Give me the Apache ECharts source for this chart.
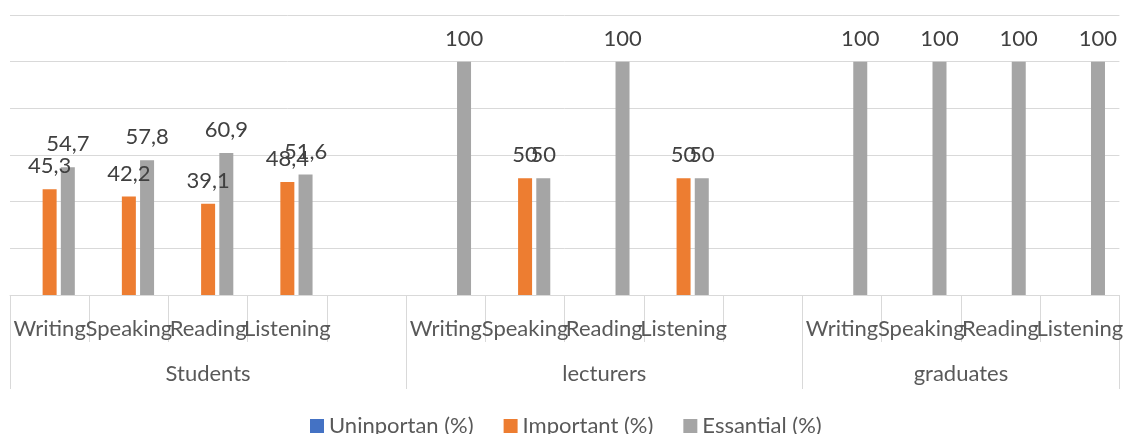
<!DOCTYPE html>
<html>
<head>
<meta charset="utf-8">
<script src="https://cdn.jsdelivr.net/npm/echarts@6/dist/echarts.min.js"></script>
<style>
html,body{margin:0;padding:0;background:#fff;}
#chart{width:1126px;height:434px;}
</style>
</head>
<body>
<div id="chart"></div>
<script>
// ---- data ----
var skills = ['Writing','Speaking','Reading','Listening','', 'Writing','Speaking','Reading','Listening','', 'Writing','Speaking','Reading','Listening'];
var groups = ['Students','lecturers','graduates'];
var groupBounds = [0, 5, 10, 14];      // slot boundaries of groups
var seriesNames = ['Uninportan (%)','Important (%)','Essantial (%)'];
var uninportan = [null,null,null,null,null, null,null,null,null,null, null,null,null,null];
var important  = [45.3,42.2,39.1,48.4,null, null,50,null,50,null, null,null,null,null];
var essential  = [54.7,57.8,60.9,51.6,null, 100,50,100,50,null, 100,100,100,100];
var yTicks = [0,20,40,60,80,100,120];

// ---- chart ----
var FONT = 'Lato';
var colors = ['#4472C4','#ED7D31','#A5A5A5'];
var groupCenters = [];
for (var i = 0; i < groups.length; i++) groupCenters.push((groupBounds[i] + groupBounds[i+1]) / 2);

var chart = echarts.init(document.getElementById('chart'), null, {renderer:'canvas'});
function labelFmt(p){ return String(p.value).replace('.', ','); }
function mkSeries(name, data, color){
  return {
    name: name, type: 'bar', data: data, xAxisIndex: 0, yAxisIndex: 0,
    barWidth: 14, barGap: '30%',
    itemStyle: {color: color},
    label: {show: true, position: 'top', distance: 12, formatter: labelFmt,
      color: '#404040', fontFamily: FONT, fontSize: 22},
    emphasis: {disabled: true}, animation: false
  };
}
chart.setOption({
  animation: false,
  color: colors,
  grid: {left: 10, right: 1, top: 15, bottom: 139, containLabel: false},
  legend: {
    data: seriesNames, bottom: -8, left: 305,
    icon: 'rect', itemWidth: 14, itemHeight: 14, itemGap: 30,
    textStyle: {color: '#595959', fontFamily: FONT, fontSize: 22}
  },
  xAxis: [
    {
      type: 'category', data: skills, position: 'bottom', boundaryGap: true,
      axisLine: {show: true, lineStyle: {color: '#D9D9D9', width: 1}},
      axisTick: {show: true, interval: 0, length: 47, lineStyle: {color: '#D9D9D9', width: 1}},
      axisLabel: {interval: 0, margin: 23, color: '#595959', fontFamily: FONT, fontSize: 22},
      splitLine: {show: false}
    },
    {
      type: 'value', min: 0, max: 14, interval: 1, position: 'bottom', offset: 0,
      axisLine: {show: false},
      axisTick: {show: true, customValues: groupBounds, length: 94, lineStyle: {color: '#D9D9D9', width: 1}},
      axisLabel: {show: true, customValues: groupCenters, margin: 68,
        color: '#595959', fontFamily: FONT, fontSize: 22,
        formatter: function(v){ var k = groupCenters.indexOf(v); return k >= 0 ? groups[k] : ''; }},
      splitLine: {show: false}
    }
  ],
  yAxis: {
    type: 'value', min: yTicks[0], max: yTicks[yTicks.length-1], interval: yTicks[1] - yTicks[0],
    axisLine: {show: false}, axisTick: {show: false}, axisLabel: {show: false},
    splitLine: {show: true, lineStyle: {color: '#D9D9D9', width: 1}}
  },
  series: [
    mkSeries(seriesNames[0], uninportan, colors[0]),
    mkSeries(seriesNames[1], important, colors[1]),
    mkSeries(seriesNames[2], essential, colors[2])
  ]
});
</script>
</body>
</html>
